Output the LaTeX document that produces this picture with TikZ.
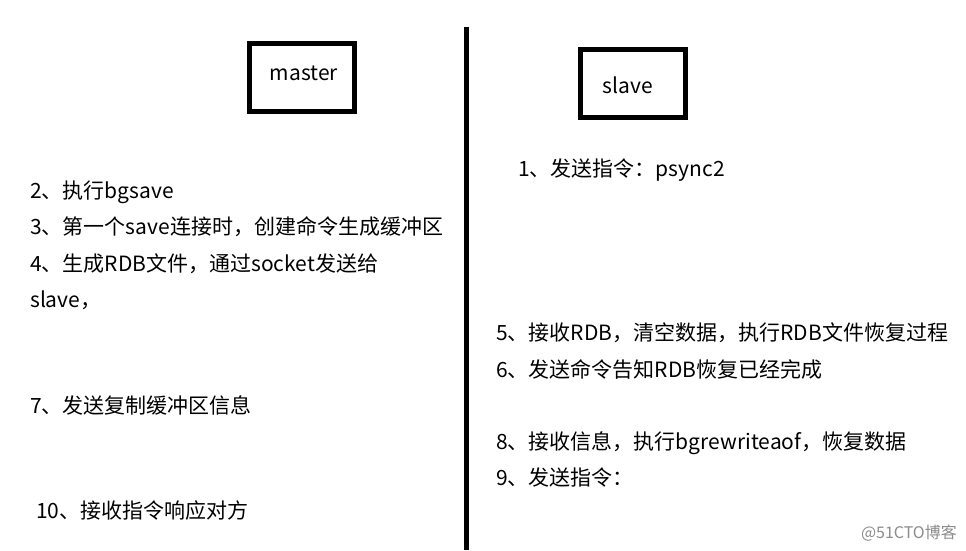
\documentclass[tikz,border=0pt]{standalone}
\usepackage{fontspec}
\setmainfont{Noto Sans CJK SC}
\begin{document}
\begin{tikzpicture}[x=1pt,y=-1pt,
  txt/.style={anchor=base west,inner sep=0pt,font=\fontsize{21}{21}\selectfont},
  role/.style={draw,line width=5pt,minimum width=105pt,minimum height=68pt,inner sep=0pt,font=\fontsize{21}{21}\selectfont},
  wmark/.style={anchor=base east,inner sep=0pt,text=black!45,font=\fontsize{16}{16}\selectfont}]
\useasboundingbox (0,0) rectangle (966,550);
\fill[white] (0,0) rectangle (966,550);
% divider
\coordinate (dtop) at (466,27);
\coordinate (dbot) at (466,550);
\draw[line width=5pt] (dtop) -- (dbot);
% role boxes
\node[role] (master) at (302,77.5) {};
\node[anchor=base,inner sep=0pt,font=\fontsize{21}{21}\selectfont] (mastertxt) at (304,80) {master};
\node[role] (slave) at (633,83.5) {};
\node[anchor=base,inner sep=0pt,font=\fontsize{21}{21}\selectfont] (slavetxt) at (628,93) {slave};
% master side
\node[txt] (m2) at (30,198) {2、执行bgsave};
\node[txt] (m3) at (30,234.5) {3、第一个save连接时，创建命令生成缓冲区};
\node[txt] (m4) at (30,271) {4、生成RDB文件，通过socket发送给};
\node[txt] (m4b) at (30,307.5) {slave，};
\node[txt] (m7) at (30,413) {7、发送复制缓冲区信息};
\node[txt] (m10) at (36,518) {10、接收指令响应对方};
% slave side
\node[txt] (s1) at (518,176) {1、发送指令：psync2};
\node[txt] (s5) at (496,340) {5、接收RDB，清空数据，执行RDB文件恢复过程};
\node[txt] (s6) at (496,377) {6、发送命令告知RDB恢复已经完成};
\node[txt] (s8) at (496,449) {8、接收信息，执行bgrewriteaof，恢复数据};
\node[txt] (s9) at (496,485) {9、发送指令：};
% watermark
\node[wmark] (wm) at (957,538) {@51CTO博客};
\end{tikzpicture}
\end{document}
